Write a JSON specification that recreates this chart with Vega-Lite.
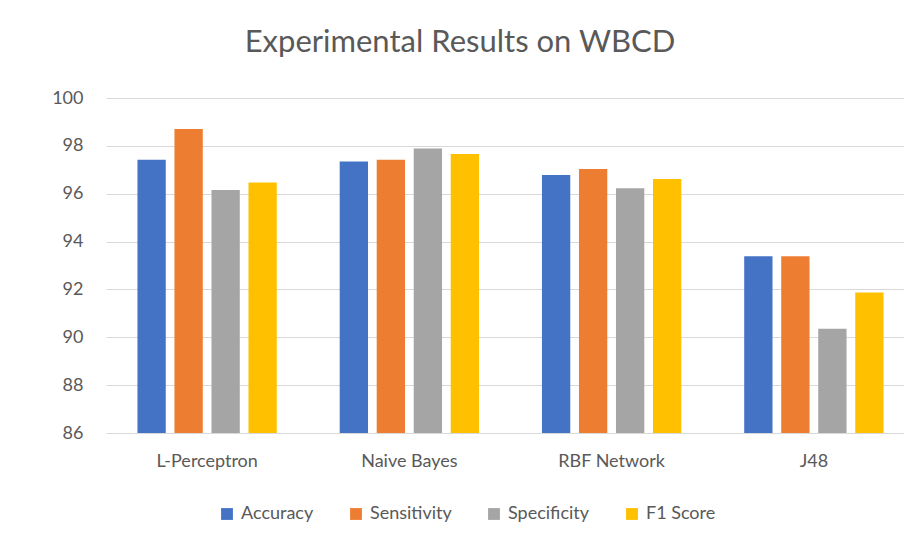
{
  "$schema": "https://vega.github.io/schema/vega-lite/v6.json",
  "autosize": "none",
  "width": 798,
  "height": 335,
  "padding": {"left": 106, "top": 98, "right": 0, "bottom": 113},
  "background": "white",
  "title": {
    "text": "Experimental Results on WBCD",
    "font": "Lato",
    "fontSize": 31,
    "fontWeight": "normal",
    "color": "#595959",
    "anchor": "middle",
    "dx": -45,
    "offset": 30
  },
  "data": {
    "values": [
      {"model": "L-Perceptron", "metric": "Accuracy", "value": 97.42},
      {"model": "L-Perceptron", "metric": "Sensitivity", "value": 98.7},
      {"model": "L-Perceptron", "metric": "Specificity", "value": 96.16},
      {"model": "L-Perceptron", "metric": "F1 Score", "value": 96.47},
      {"model": "Naive Bayes", "metric": "Accuracy", "value": 97.35},
      {"model": "Naive Bayes", "metric": "Sensitivity", "value": 97.42},
      {"model": "Naive Bayes", "metric": "Specificity", "value": 97.89},
      {"model": "Naive Bayes", "metric": "F1 Score", "value": 97.66},
      {"model": "RBF Network", "metric": "Accuracy", "value": 96.78},
      {"model": "RBF Network", "metric": "Sensitivity", "value": 97.03},
      {"model": "RBF Network", "metric": "Specificity", "value": 96.23},
      {"model": "RBF Network", "metric": "F1 Score", "value": 96.62},
      {"model": "J48", "metric": "Accuracy", "value": 93.39},
      {"model": "J48", "metric": "Sensitivity", "value": 93.39},
      {"model": "J48", "metric": "Specificity", "value": 90.36},
      {"model": "J48", "metric": "F1 Score", "value": 91.87}
    ]
  },
  "mark": {"type": "bar", "clip": true},
  "encoding": {
    "x": {
      "field": "model",
      "type": "nominal",
      "sort": ["L-Perceptron", "Naive Bayes", "RBF Network", "J48"],
      "scale": {"range": [0, 809], "paddingInner": 0.311, "paddingOuter": 0.1555},
      "axis": {
        "title": null,
        "labelAngle": 0,
        "ticks": false,
        "domain": false,
        "labelPadding": 19,
        "labelFont": "Lato",
        "labelFontSize": 18,
        "labelColor": "#595959"
      }
    },
    "xOffset": {
      "field": "metric",
      "type": "nominal",
      "sort": ["Accuracy", "Sensitivity", "Specificity", "F1 Score"],
      "scale": {"paddingInner": 0.235, "paddingOuter": 0}
    },
    "y": {
      "field": "value",
      "type": "quantitative",
      "scale": {"domain": [86, 100], "zero": false, "nice": false},
      "axis": {
        "title": null,
        "values": [86, 88, 90, 92, 94, 96, 98, 100],
        "ticks": false,
        "domain": false,
        "labelPadding": 23,
        "labelFont": "Lato",
        "labelFontSize": 18,
        "labelColor": "#595959",
        "gridColor": "#d9d9d9",
        "gridWidth": 1.2
      }
    },
    "color": {
      "field": "metric",
      "type": "nominal",
      "sort": ["Accuracy", "Sensitivity", "Specificity", "F1 Score"],
      "scale": {"range": ["#4472C4", "#ED7D31", "#A5A5A5", "#FFC000"]},
      "legend": {
        "title": null,
        "orient": "none",
        "direction": "horizontal",
        "legendX": 112,
        "legendY": 407,
        "symbolType": "square",
        "symbolSize": 140,
        "symbolStrokeWidth": 0,
        "labelFont": "Lato",
        "labelFontSize": 18,
        "labelColor": "#595959",
        "columnPadding": 33,
        "labelOffset": 5
      }
    }
  },
  "config": {"view": {"stroke": null}}
}
